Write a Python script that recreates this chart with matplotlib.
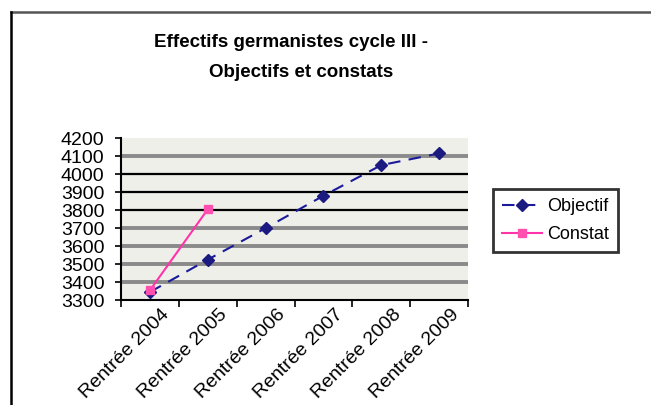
import numpy as np
import matplotlib
matplotlib.use("Agg")
import matplotlib.pyplot as plt
import matplotlib.transforms as mtrans
from matplotlib.lines import Line2D

plt.rcParams['font.family'] = ['Liberation Sans', 'DejaVu Sans']

categories = ["Rentrée 2004", "Rentrée 2005", "Rentrée 2006",
              "Rentrée 2007", "Rentrée 2008", "Rentrée 2009"]
objectif = [3345, 3525, 3700, 3880, 4050, 4115]
constat = [3355, 3805]
yticks = [3300, 3400, 3500, 3600, 3700, 3800, 3900, 4000, 4100, 4200]
dark_lines = [3800, 3900, 4000]

fig = plt.figure(figsize=(6.51, 4.05), dpi=100)
ax = fig.add_axes([0.186, 0.259, 0.533, 0.4])
ax.set_facecolor("#efefe9")

# horizontal grid: gray hatched-looking lines, some black
for v in yticks[1:-1]:
    if v in dark_lines:
        ax.axhline(v, color="black", lw=1.6, zorder=1)
    else:
        ax.axhline(v, color="#8a8a8a", lw=2.8, zorder=1)

x = np.arange(len(categories))
ax.plot(x, objectif, color="#1a1a9a", ls=(0, (6, 4)), lw=1.5,
        marker="D", ms=6, mfc="#1a1a80", mec="#1a1a80", zorder=3)
ax.plot(x[:len(constat)], constat, color="#ff33aa", lw=1.5,
        marker="s", ms=6, mfc="#ff4faf", mec="#ff4faf", zorder=4)

ax.set_xlim(-0.5, len(categories) - 0.5)
ax.set_ylim(3300, 4200)
ax.set_yticks(yticks)
ax.set_yticklabels([str(v) for v in yticks], fontsize=14)
ax.tick_params(axis="y", direction="out", length=4, width=1.2, pad=8)

ax.set_xticks(np.arange(len(categories) + 1) - 0.5)
ax.set_xticklabels([])
ax.set_xticks(x, minor=True)
ax.set_xticklabels(categories, minor=True, rotation=45, ha="right",
                   rotation_mode="anchor", fontsize=14)
ax.tick_params(axis="x", which="major", direction="out", length=5, width=1.2)
ax.tick_params(axis="x", which="minor", length=0, pad=4)
shift = mtrans.ScaledTranslation(0.11, 0, fig.dpi_scale_trans)
for lab in ax.get_xticklabels(minor=True):
    lab.set_transform(lab.get_transform() + shift)

for s in ["top", "right"]:
    ax.spines[s].set_visible(False)
ax.spines["left"].set_linewidth(1.5)
ax.spines["bottom"].set_linewidth(1.5)

fig.text(0.447, 0.895, "Effectifs germanistes cycle III -", ha="center",
         va="center", fontsize=13.5, fontweight="bold")
fig.text(0.463, 0.82, "Objectifs et constats", ha="center",
         va="center", fontsize=13.5, fontweight="bold")

handles = [Line2D([], [], color="#1a1a9a", ls=(0, (6, 4)), lw=1.5, marker="D",
                  ms=6, mfc="#1a1a80", mec="#1a1a80"),
           Line2D([], [], color="#ff33aa", lw=1.5, marker="s", ms=6,
                  mfc="#ff4faf", mec="#ff4faf")]
leg = fig.legend(handles, ["Objectif", "Constat"], loc="center",
                 bbox_to_anchor=(0.853, 0.455), fontsize=13, frameon=True,
                 fancybox=False, handlelength=2.2, handletextpad=0.3,
                 borderpad=0.5, labelspacing=0.6)
leg.get_frame().set_edgecolor("black")
leg.get_frame().set_linewidth(2)

# outer frame (top and left only)
fig.add_artist(Line2D([11 / 651, 1], [1 - 12 / 405, 1 - 12 / 405],
                      transform=fig.transFigure, color="#555555", lw=1.8))
fig.add_artist(Line2D([11 / 651, 11 / 651], [0, 1 - 12 / 405],
                      transform=fig.transFigure, color="black", lw=1.8))

fig.savefig("out.png", dpi=100)
